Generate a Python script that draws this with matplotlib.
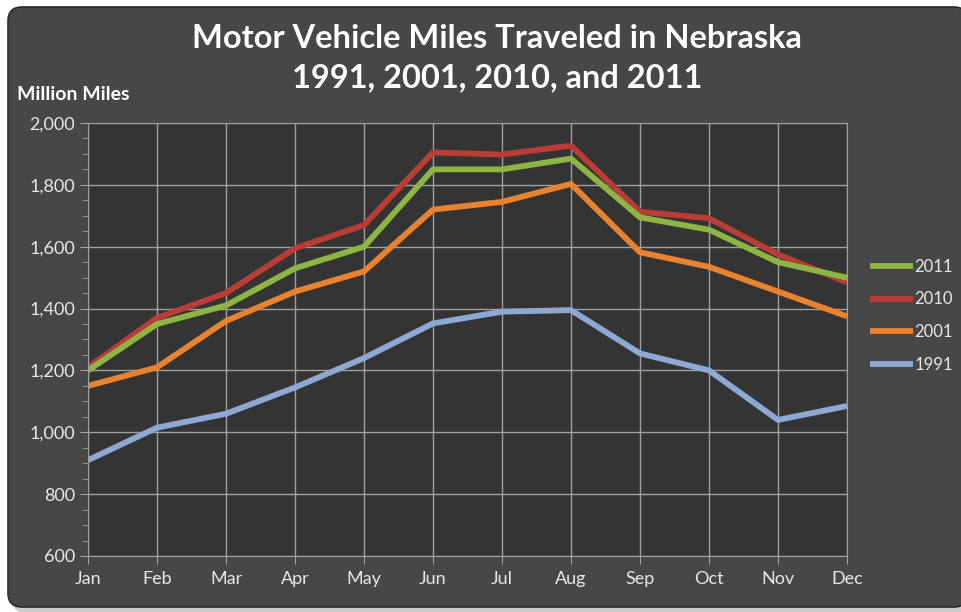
import matplotlib.pyplot as plt
import numpy as np
from matplotlib.patches import FancyBboxPatch
from matplotlib.ticker import MultipleLocator, FuncFormatter

# ---- data (million miles) ----
months = ['Jan', 'Feb', 'Mar', 'Apr', 'May', 'Jun', 'Jul', 'Aug', 'Sep', 'Oct', 'Nov', 'Dec']
miles_2011 = [1200, 1350, 1410, 1530, 1600, 1850, 1850, 1885, 1695, 1655, 1550, 1500]
miles_2010 = [1210, 1370, 1450, 1595, 1670, 1905, 1898, 1927, 1713, 1692, 1575, 1485]
miles_2001 = [1150, 1210, 1360, 1455, 1520, 1720, 1745, 1803, 1582, 1535, 1455, 1375]
miles_1991 = [910, 1015, 1060, 1145, 1240, 1352, 1390, 1395, 1255, 1200, 1040, 1085]

series = [('2011', miles_2011, '#8db543'),
          ('2010', miles_2010, '#b93c37'),
          ('2001', miles_2001, '#e8822e'),
          ('1991', miles_1991, '#8ea8d4')]

plt.rcParams['font.family'] = ['Lato', 'DejaVu Sans']
txt = '#e8e8e8'

fig = plt.figure(figsize=(9.61, 6.12), dpi=100)
fig.patch.set_facecolor('white')

# background frame with left-to-right gradient
bg = fig.add_axes([0, 0, 1, 1])
bg.set_xlim(0, 961)
bg.set_ylim(612, 0)
bg.axis('off')
shadow = FancyBboxPatch((12, 12), 960, 601, boxstyle='round,pad=0,rounding_size=14',
                        facecolor='#9a9a9a', edgecolor='none', alpha=0.5)
bg.add_patch(shadow)
frame = FancyBboxPatch((8, 7), 960, 600, boxstyle='round,pad=0,rounding_size=14',
                       facecolor='#474747', edgecolor='#2a2a2a', linewidth=1.2)
bg.add_patch(frame)
grad = np.linspace(0, 1, 256).reshape(1, -1)
im = bg.imshow(grad, extent=[8, 968, 607, 7], aspect='auto',
               cmap=plt.matplotlib.colors.LinearSegmentedColormap.from_list('g', ['#404040', '#575757']))
im.set_clip_path(frame)

ax = fig.add_axes([88/961, 1 - 556/612, (847 - 88)/961, (556 - 123)/612])
ax.set_facecolor('#343434')

x = np.arange(len(months))
for name, vals, col in series[::-1]:
    ax.plot(x, vals, color=col, linewidth=4.2, label=name, solid_capstyle='butt')

ax.set_xlim(0, len(months) - 1)
ax.set_ylim(600, 2000)
ax.set_xticks(x)
ax.set_xticklabels(months)
ax.yaxis.set_major_locator(MultipleLocator(200))
ax.yaxis.set_minor_locator(MultipleLocator(50))
ax.yaxis.set_major_formatter(FuncFormatter(lambda v, p: f'{int(v):,}'))
ax.grid(True, which='major', color='#a0a0a0', linewidth=1.0)
ax.set_axisbelow(True)
for s in ax.spines.values():
    s.set_color('#a0a0a0')
ax.tick_params(axis='both', colors='#a0a0a0', labelcolor=txt, labelsize=13, length=6)
ax.tick_params(axis='y', which='minor', colors='#a0a0a0', length=4)
ax.tick_params(axis='x', pad=5)

handles, labels = ax.get_legend_handles_labels()
leg = ax.legend(handles[::-1], labels[::-1], loc='center left', bbox_to_anchor=(1.01, 0.555),
                frameon=False, fontsize=12, labelcolor=txt, handlelength=2.6,
                handletextpad=0.1, labelspacing=1.0)

fig.text(497/961, 1 - 38/612, 'Motor Vehicle Miles Traveled in Nebraska', ha='center', va='center',
         color='white', fontsize=23.5, fontweight='bold')
fig.text(497/961, 1 - 78/612, '1991, 2001, 2010, and 2011', ha='center', va='center',
         color='white', fontsize=23.5, fontweight='bold')
fig.text(17/961, 1 - 95/612, 'Million Miles', ha='left', va='center',
         color='white', fontsize=14, fontweight='bold')

fig.savefig('out.png', dpi=100, facecolor=fig.get_facecolor())
